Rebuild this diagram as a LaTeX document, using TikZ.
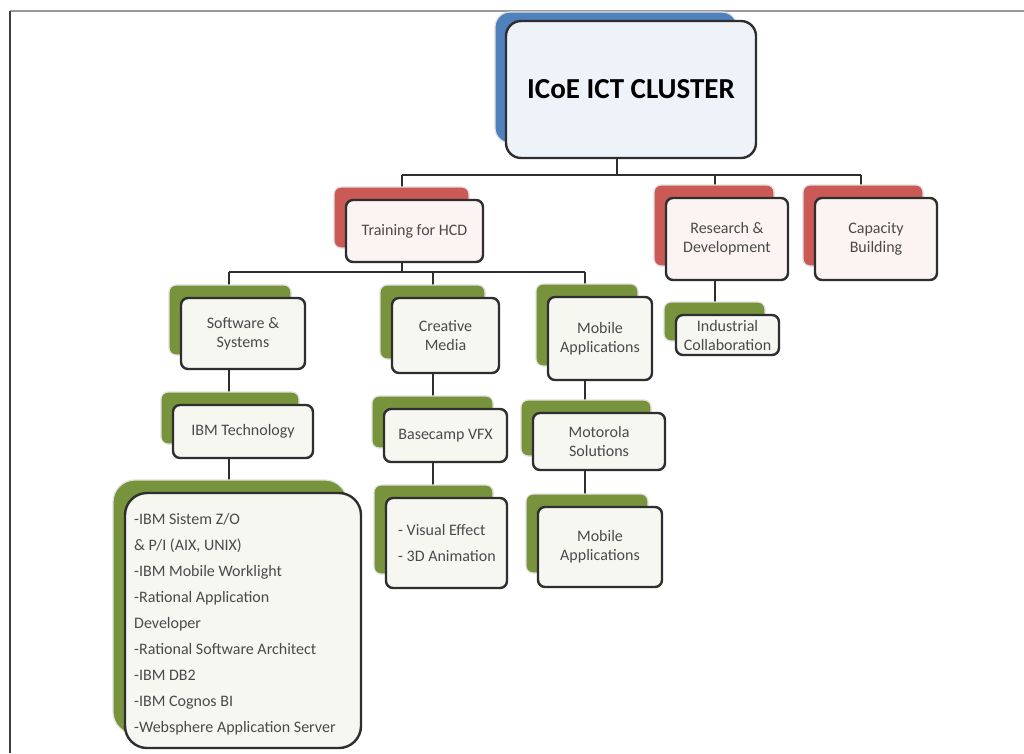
\documentclass[tikz,border=0pt]{standalone}
\usepackage{fontspec}
\setmainfont{Carlito}
\usetikzlibrary{backgrounds}
\definecolor{shb}{HTML}{4F81BD}
\definecolor{shr}{HTML}{CB5955}
\definecolor{shg}{HTML}{77933C}
\definecolor{frb}{HTML}{EEF2F9}
\definecolor{frr}{HTML}{FCF3F3}
\definecolor{frg}{HTML}{F6F7F1}
\definecolor{edge}{HTML}{2E2E2E}
\definecolor{lbl}{HTML}{4A4A4A}
\tikzset{
  frontbox/.style={draw=edge, line width=2.4pt, inner sep=0pt, align=center,
    text=lbl, font=\fontsize{16}{19}\selectfont},
  conn/.style={draw=edge, line width=2.4pt},
  listtext/.style={inner sep=0pt, align=left, text=lbl,
    font=\fontsize{16}{26}\selectfont},
}
% #1 radius, #2 name, #3 colour family, #4 x1, #5 y1, #6 x2, #7 y2, #8 text
\newcommand\obox[8][7]{%
  \fill[sh#3, draw=black!12, line width=1.2pt, rounded corners=#1pt]
    ({#4-12},{#5-13}) rectangle ({#6-14},{#7-14});
  \node[frontbox, fill=fr#3, rounded corners=#1pt,
    minimum width={#6-#4}, minimum height={#7-#5}]
    (#2) at ({(#4+#6)/2},{(#5+#7)/2}) {#8};
}
\begin{document}
\begin{tikzpicture}[x=1pt,y=-1pt]
\useasboundingbox (0,0) rectangle (1024,753);
% frame
\draw[black!40, line width=2pt] (10,11) -- (1024,11);
\draw[black!75, line width=2pt] (10,11) -- (10,753);

% root
\fill[shb, draw=black!12, line width=1.2pt, rounded corners=15pt]
  (495,12) rectangle (737,143);
\node[frontbox, fill=frb, rounded corners=15pt, minimum width=250,
  minimum height=137, text=black, font=\fontsize{29}{34}\selectfont\bfseries]
  (root) at (631,89.5) {ICoE ICT CLUSTER};

% level 1
\obox{train}{r}{346}{200}{483}{262}{Training for HCD}
\obox{research}{r}{666}{198}{788}{280}{Research \&\\Development}
\obox{capacity}{r}{815}{198}{937}{280}{Capacity\\Building}

% level 2
\obox{soft}{g}{181}{298}{305}{369}{Software \&\\Systems}
\obox{creative}{g}{392}{298}{499}{373}{Creative\\Media}
\obox{mobile}{g}{548}{297}{652}{380}{Mobile\\Applications}
\obox{indus}{g}{676}{315}{779}{355}{Industrial\\Collaboration}

% level 3
\obox{ibmt}{g}{173}{405}{313}{458}{IBM Technology}
\obox{basecamp}{g}{384}{409}{507}{462}{Basecamp VFX}
\obox{motorola}{g}{533}{413}{665}{470}{Motorola\\Solutions}

% level 4
\obox[22]{ibmbox}{g}{125}{493}{361}{748}{}
\node[listtext, anchor=north west] (ibmlist) at (134,513) {-IBM Sistem Z/O\\
\& P/I (AIX, UNIX)\\
-IBM Mobile Worklight\\
-Rational Application\\
Developer\\
-Rational Software Architect\\
-IBM DB2\\
-IBM Cognos BI\\
-Websphere Application Server};
\obox{visual}{g}{386}{498}{507}{588}{}
\node[listtext, anchor=west] (vistext) at (398,543)
  {- Visual Effect\\- 3D Animation};
\obox{mobile2}{g}{538}{507}{662}{587}{Mobile\\Applications}

% connectors
\coordinate (b1) at (617,175);
\coordinate (tx) at (402,175);
\coordinate (rx) at (715,175);
\coordinate (cx) at (861,175);
\coordinate (b2) at (402,272);
\coordinate (sx) at (229,272);
\coordinate (crx) at (433,272);
\coordinate (mx) at (585,272);
\begin{scope}[on background layer]
\fill[white] (0,0) rectangle (1024,753);
\draw[conn] (root.south -| b1) -- (b1);
\draw[conn] (tx) -- (cx);
\draw[conn] (tx) -- (train.north -| tx);
\draw[conn] (rx) -- (research.north -| rx);
\draw[conn] (cx) -- (capacity.north -| cx);
\draw[conn] (research.south -| rx) -- (indus.north -| rx);
\draw[conn] (train.south -| b2) -- (b2);
\draw[conn] (sx) -- (mx);
\draw[conn] (sx) -- (soft.north -| sx);
\draw[conn] (crx) -- (creative.north -| crx);
\draw[conn] (mx) -- (mobile.north -| mx);
\draw[conn] (soft.south -| sx) -- (ibmt.north -| sx);
\draw[conn] (ibmt.south -| sx) -- (ibmbox.north -| sx);
\draw[conn] (creative.south -| crx) -- (basecamp.north -| crx);
\draw[conn] (basecamp.south -| crx) -- (visual.north -| crx);
\draw[conn] (mobile.south -| mx) -- (motorola.north -| mx);
\draw[conn] (motorola.south -| mx) -- (mobile2.north -| mx);
\end{scope}
\end{tikzpicture}
\end{document}
